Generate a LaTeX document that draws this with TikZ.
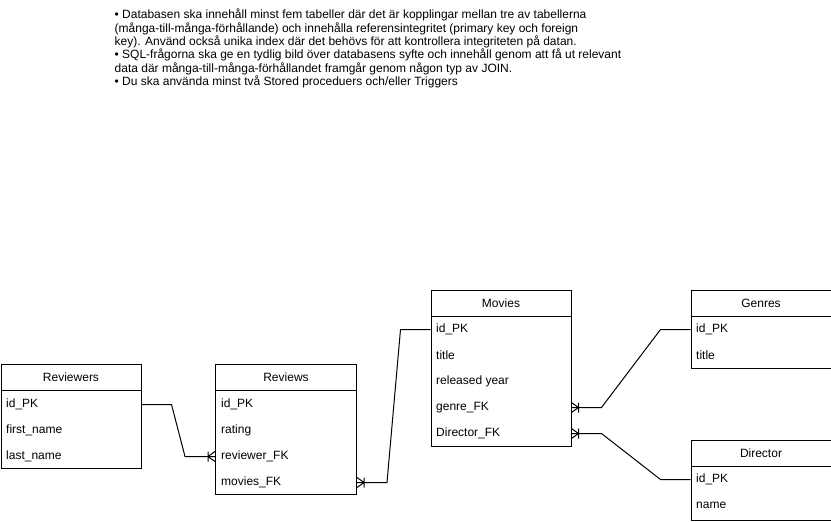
\documentclass[tikz,border=0pt]{standalone}
\usepackage{fontspec}
\setmainfont{Liberation Sans}
\begin{document}
\begin{tikzpicture}[x=1pt, y=-1pt,
  tbl/.style={draw, line width=1pt, anchor=north west, inner sep=0pt, minimum width=140pt},
  hdr/.style={tbl, minimum height=26pt, font=\fontsize{12}{14}\selectfont},
  fld/.style={anchor=west, inner sep=0pt, font=\fontsize{12}{14}\selectfont},
  rel/.style={line width=1pt},
  crow/.pic={\draw[line width=1pt] (0,-5) -- (-7,0) -- (0,5) (-7,-5) -- (-7,5);}]
\useasboundingbox (0,0) rectangle (831,522);
% requirements text
\node[anchor=north west, inner sep=0pt, align=left, font=\fontsize{12}{13.3}\selectfont] (req) at (114.5,9)
{• Databasen ska innehåll minst fem tabeller där det är kopplingar mellan tre av tabellerna\\
(många-till-många-förhållande) och innehålla referensintegritet (primary key och foreign\\
key). Använd också unika index där det behövs för att kontrollera integriteten på datan.\\
• SQL-frågorna ska ge en tydlig bild över databasens syfte och innehåll genom att få ut relevant\\
data där många-till-många-förhållandet framgår genom någon typ av JOIN.\\
• Du ska använda minst två Stored proceduers och/eller Triggers};
% Reviewers
\node[tbl, minimum height=104pt] (rw) at (0.5,364) {};
\node[hdr] (rwH) at (0.5,364) {Reviewers};
\node[fld] (rw1) at (6,404.5) {id\_PK};
\node[fld] (rw2) at (6,430.5) {first\_name};
\node[fld] (rw3) at (6,456.5) {last\_name};
% Reviews
\node[tbl, minimum height=130pt, minimum width=141pt] (rv) at (215,364) {};
\node[hdr, minimum width=141pt] (rvH) at (215,364) {Reviews};
\node[fld] (rv1) at (221,404.5) {id\_PK};
\node[fld] (rv2) at (221,430.5) {rating};
\node[fld] (rv3) at (221,456.5) {reviewer\_FK};
\node[fld] (rv4) at (221,482.5) {movies\_FK};
% Movies
\node[tbl, minimum height=156pt] (mv) at (430.5,290) {};
\node[hdr] (mvH) at (430.5,290) {Movies};
\node[fld] (mv1) at (436,329.5) {id\_PK};
\node[fld] (mv2) at (436,355.5) {title};
\node[fld] (mv3) at (436,381.5) {released year};
\node[fld] (mv4) at (436,407.5) {genre\_FK};
\node[fld] (mv5) at (436,433.5) {Director\_FK};
% Genres
\node[tbl, minimum height=78pt] (gn) at (690.5,290) {};
\node[hdr] (gnH) at (690.5,290) {Genres};
\node[fld] (gn1) at (696,329.5) {id\_PK};
\node[fld] (gn2) at (696,355.5) {title};
% Director
\node[tbl, minimum height=80pt] (dr) at (690.5,440) {};
\node[hdr] (drH) at (690.5,440) {Director};
\node[fld] (dr1) at (696,479.5) {id\_PK};
\node[fld] (dr2) at (696,505.5) {name};
% relations
\draw[rel] (rw.east |- rw1) -- +(30,0) -- ([xshift=-30pt]rv.west |- rv3) -- (rv.west |- rv3);
\pic at (rv.west |- rv3) {crow};
\draw[rel] (rv.east |- rv4) -- +(30,0) -- ([xshift=-30pt]mv.west |- mv1) -- (mv.west |- mv1);
\pic[rotate=180] at (rv.east |- rv4) {crow};
\draw[rel] (mv.east |- mv4) -- +(30,0) -- ([xshift=-30pt]gn.west |- gn1) -- (gn.west |- gn1);
\pic[rotate=180] at (mv.east |- mv4) {crow};
\draw[rel] (mv.east |- mv5) -- +(30,0) -- ([xshift=-30pt]dr.west |- dr1) -- (dr.west |- dr1);
\pic[rotate=180] at (mv.east |- mv5) {crow};
\end{tikzpicture}
\end{document}
